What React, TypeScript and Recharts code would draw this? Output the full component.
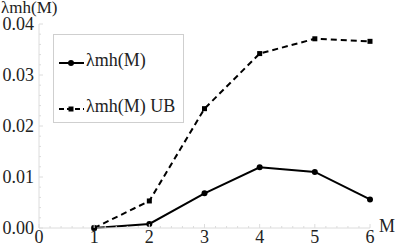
import { Legend, Line, LineChart, XAxis, YAxis } from "recharts"

const mValues = [1, 2, 3, 4, 5, 6]
const lambdaMh = [0, 0.0008, 0.0068, 0.0119, 0.011, 0.0056]
const lambdaMhUB = [0, 0.0053, 0.0234, 0.0342, 0.0371, 0.0366]
const seriesNames = ["λmh(M)", "λmh(M) UB"]

const xMajorTicks = [0, 1, 2, 3, 4, 5, 6]
const yMajorTicks = [0, 0.01, 0.02, 0.03, 0.04]

// minor ticks: 5 steps between majors
const xTicks: number[] = []
for (let i = 0; i < xMajorTicks.length - 1; i++) {
  for (let k = 0; k < 5; k++) xTicks.push(xMajorTicks[i] + (k * (xMajorTicks[i + 1] - xMajorTicks[i])) / 5)
}
xTicks.push(xMajorTicks[xMajorTicks.length - 1])
const yTicks: number[] = []
for (let i = 0; i < yMajorTicks.length - 1; i++) {
  for (let k = 0; k < 5; k++) yTicks.push(yMajorTicks[i] + (k * (yMajorTicks[i + 1] - yMajorTicks[i])) / 5)
}
yTicks.push(yMajorTicks[yMajorTicks.length - 1])

const data = mValues.map((m, i) => ({ m, a: lambdaMh[i], b: lambdaMhUB[i] }))

const FONT = "Liberation Serif, Tinos, DejaVu Serif, serif"
const AXIS = "#dcdcdc"
const TEXT = "#222"

const isMajor = (v: number, majors: number[]) => majors.some((t) => Math.abs(t - v) < 1e-9)

const XTick = (props: any) => {
  const { x, y, payload } = props
  const major = isMajor(payload.value, xMajorTicks)
  return (
    <g>
      <line x1={x} x2={x} y1={y} y2={y - (major ? 4 : 2)} stroke={AXIS} />
      {major && (
        <text x={x} y={y + 15} textAnchor="middle" style={{ fontFamily: FONT }} fontSize={18} fill={TEXT}>
          {Math.round(payload.value)}
        </text>
      )}
    </g>
  )
}

const YTick = (props: any) => {
  const { x, y, payload } = props
  const major = isMajor(payload.value, yMajorTicks)
  return (
    <g>
      <line x1={x} x2={x + (major ? 4 : 2)} y1={y} y2={y} stroke={AXIS} />
      {major && (
        <text x={x - 5} y={y + 6} textAnchor="end" style={{ fontFamily: FONT }} fontSize={18} fill={TEXT}>
          {payload.value.toFixed(2)}
        </text>
      )}
    </g>
  )
}

const SquareDot = (props: any) => {
  const { cx, cy } = props
  if (cx == null || cy == null) return null
  return <rect x={cx - 2.5} y={cy - 2.5} width={5} height={5} fill="#000" />
}

const LegendBox = () => (
  <div
    style={{
      width: 131,
      height: 89,
      boxSizing: "border-box",
      border: "1px solid #cfcfcf",
      background: "#fff",
      position: "relative",
      fontFamily: FONT,
      fontSize: 18,
      lineHeight: "20px",
      color: TEXT,
    }}
  >
    {seriesNames.map((name, i) => (
      <div key={name} style={{ position: "absolute", left: 4, top: i === 0 ? 17 : 63, display: "flex", alignItems: "center", whiteSpace: "nowrap" }}>
        <svg width={28} height={20} style={{ display: "block" }}>
          <line x1={1} x2={26} y1={11} y2={11} stroke="#000" strokeWidth={2} strokeDasharray={i === 0 ? undefined : "5 3"} />
          {i === 0 ? <circle cx={13} cy={11} r={3} fill="#000" /> : <rect x={10.5} y={8.5} width={5} height={5} fill="#000" />}
        </svg>
        <span style={{ marginTop: -4 }}>{name}</span>
      </div>
    ))}
  </div>
)

export default function App() {
  return (
    <div style={{ position: "absolute", left: 0, top: 0, width: 407, height: 252, background: "#fff" }}>
      <LineChart width={407} height={252} data={data} margin={{ top: 24, right: 37, bottom: 0, left: 0 }}>
        <XAxis
          dataKey="m"
          type="number"
          domain={[0, 6]}
          ticks={xTicks}
          interval={0}
          height={24}
          tickSize={0}
          tickMargin={0}
          tickLine={false}
          axisLine={{ stroke: AXIS }}
          tick={<XTick />}
        />
        <YAxis
          type="number"
          domain={[0, 0.04]}
          ticks={yTicks}
          interval={0}
          width={39}
          tickSize={0}
          tickMargin={0}
          tickLine={false}
          axisLine={{ stroke: AXIS }}
          tick={<YTick />}
        />
        <Legend
          layout="vertical"
          align="center"
          verticalAlign="middle"
          wrapperStyle={{ position: "absolute", left: 53, top: 34, width: 131, height: 89 }}
          content={() => <LegendBox />}
        />
        <Line
          dataKey="b"
          name={seriesNames[1]}
          type="linear"
          stroke="#000"
          strokeWidth={2}
          strokeDasharray="6 4"
          dot={<SquareDot />}
          isAnimationActive={false}
        />
        <Line
          dataKey="a"
          name={seriesNames[0]}
          type="linear"
          stroke="#000"
          strokeWidth={2}
          dot={{ r: 3, fill: "#000", stroke: "#000", strokeWidth: 0 }}
          isAnimationActive={false}
        />
      </LineChart>
      <div style={{ position: "absolute", left: 1, top: -1, fontFamily: FONT, fontSize: 17, lineHeight: "17px", color: TEXT, whiteSpace: "nowrap" }}>
        {seriesNames[0]}
      </div>
      <div style={{ position: "absolute", left: 379, top: 216, fontFamily: FONT, fontSize: 18, lineHeight: "20px", color: TEXT }}>M</div>
    </div>
  )
}
